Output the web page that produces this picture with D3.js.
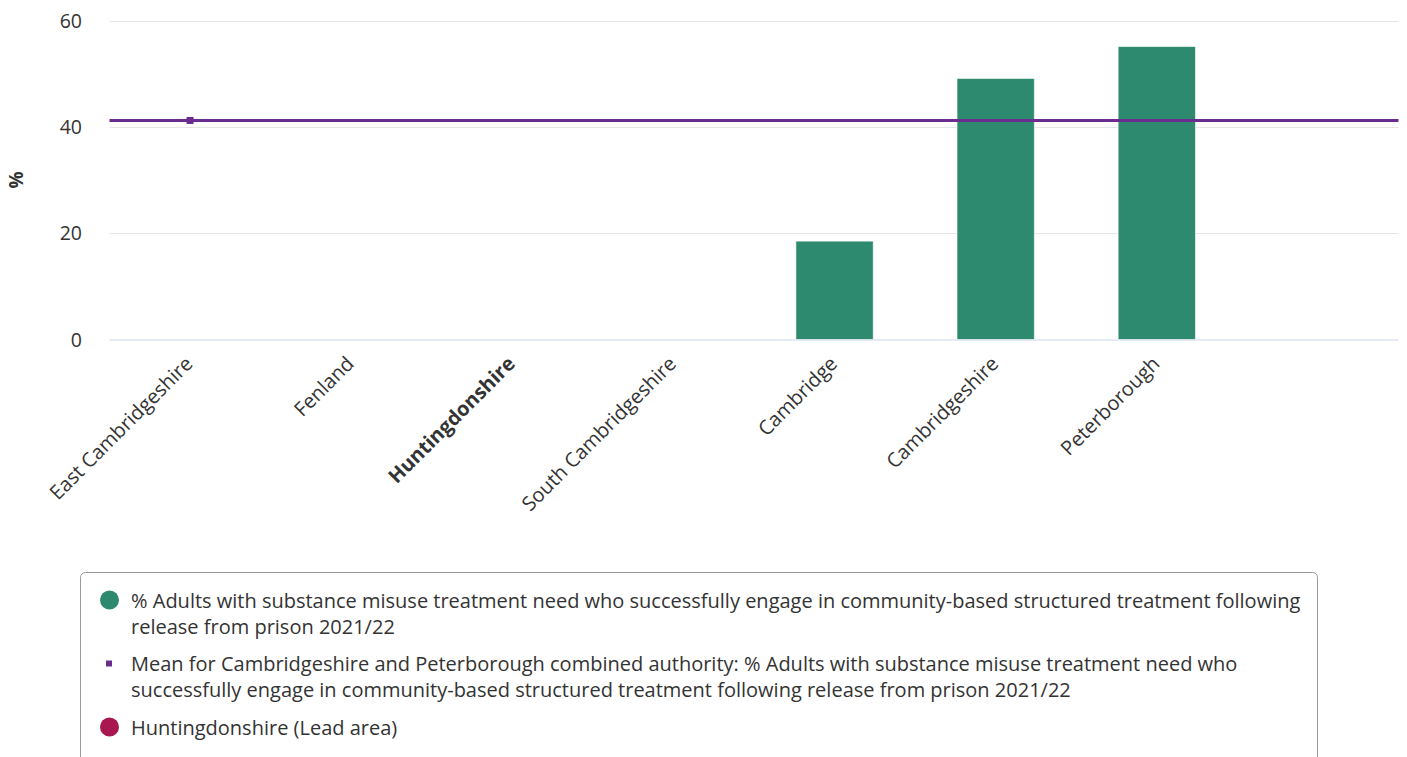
<!DOCTYPE html>
<html>
<head>
<meta charset="utf-8">
<script src="https://cdn.jsdelivr.net/npm/d3@7"></script>
<style>
  html, body { margin: 0; padding: 0; background: #fff; }
  svg { display: block; font-family: "Open Sans", "Noto Sans", sans-serif; }
</style>
</head>
<body>
<svg id="chart" width="1407" height="757"></svg>
<script>
// Areas shown along the x axis (a trailing empty slot follows the last one)
const categories = ["East Cambridgeshire", "Fenland", "Huntingdonshire", "South Cambridgeshire", "Cambridge", "Cambridgeshire", "Peterborough"];
const leadArea = "Huntingdonshire";
// % adults successfully engaging in community-based treatment after prison release, 2021/22
const values = [null, null, null, null, 18.5, 49.1, 55.1];
// Combined authority mean
const meanValue = 41.2;
const yTicks = [0, 20, 40, 60];
const legendItems = [
  { kind: "circle", color: "#2e8a6e", lines: ["% Adults with substance misuse treatment need who successfully engage in community-based structured treatment following", "release from prison 2021/22"] },
  { kind: "square", color: "#6a2c8e", lines: ["Mean for Cambridgeshire and Peterborough combined authority: % Adults with substance misuse treatment need who", "successfully engage in community-based structured treatment following release from prison 2021/22"] },
  { kind: "circle", color: "#a8174f", lines: ["Huntingdonshire (Lead area)"] }
];

const svg = d3.select("#chart");
const plot = { left: 109.5, right: 1398.5, top: 20.5, bottom: 339.5 };

const x = d3.scaleBand()
  .domain(categories.concat([""]))
  .range([plot.left, plot.right])
  .paddingInner(0.52)
  .paddingOuter(0.26);
const xCenter = d => x(d) + x.bandwidth() / 2;

const y = d3.scaleLinear().domain([0, 60]).range([plot.bottom, plot.top]);

// Horizontal gridlines
svg.append("g")
  .selectAll("line")
  .data(yTicks.filter(t => t > 0))
  .join("line")
  .attr("x1", plot.left).attr("x2", plot.right)
  .attr("y1", d => Math.round(y(d)) + 0.5).attr("y2", d => Math.round(y(d)) + 0.5)
  .attr("stroke", "#e6e6e6").attr("stroke-width", 1);

// Y axis tick labels
svg.append("g")
  .selectAll("text")
  .data(yTicks)
  .join("text")
  .attr("x", 82)
  .attr("y", d => y(d) + 7)
  .attr("text-anchor", "end")
  .attr("font-size", 19.5)
  .attr("fill", "#333")
  .text(d => d);

// Y axis title
svg.append("text")
  .attr("transform", "translate(23,180) rotate(-90)")
  .attr("text-anchor", "middle")
  .attr("font-size", 19)
  .attr("font-weight", "bold")
  .attr("fill", "#333")
  .text("%");

// Bars
svg.append("g")
  .selectAll("rect")
  .data(categories.map((c, i) => ({ c, v: values[i] })).filter(d => d.v != null))
  .join("rect")
  .attr("x", d => x(d.c))
  .attr("width", x.bandwidth())
  .attr("y", d => y(d.v))
  .attr("height", d => y(0) - y(d.v))
  .attr("fill", "#2e8a6e")
  .attr("stroke", "#ffffff")
  .attr("stroke-opacity", 0.6)
  .attr("stroke-width", 1);

// Zero axis line
svg.append("line")
  .attr("x1", plot.left).attr("x2", plot.right)
  .attr("y1", y(0) + 0.5).attr("y2", y(0) + 0.5)
  .attr("stroke", "#ccd6eb").attr("stroke-width", 1);

// Mean line across the plot with its marker on the first category
svg.append("line")
  .attr("x1", plot.left).attr("x2", plot.right)
  .attr("y1", y(meanValue)).attr("y2", y(meanValue))
  .attr("stroke", "#6a2c8e").attr("stroke-width", 3);
svg.append("rect")
  .attr("x", xCenter(categories[0]) - 3.5)
  .attr("y", y(meanValue) - 3.5)
  .attr("width", 7).attr("height", 7)
  .attr("fill", "#6a2c8e");

// Rotated category labels
svg.append("g")
  .selectAll("text")
  .data(categories)
  .join("text")
  .attr("transform", d => `translate(${xCenter(d) + 4},${365}) rotate(-45)`)
  .attr("text-anchor", "end")
  .attr("font-size", 20)
  .attr("font-weight", d => d === leadArea ? "bold" : "normal")
  .attr("fill", "#333")
  .text(d => d);

// Legend
const legend = svg.append("g");
legend.append("rect")
  .attr("x", 80.5).attr("y", 572.5)
  .attr("width", 1237).attr("height", 200)
  .attr("rx", 5)
  .attr("fill", "none")
  .attr("stroke", "#999").attr("stroke-width", 1);

const itemTops = [608, 671, 735];
legendItems.forEach((item, i) => {
  const g = legend.append("g");
  const by = itemTops[i];
  if (item.kind === "circle") {
    g.append("circle").attr("cx", 109.5).attr("cy", by - 8).attr("r", 9.5).attr("fill", item.color);
  } else {
    g.append("rect").attr("x", 106).attr("y", by - 10.5).attr("width", 6).attr("height", 6).attr("fill", item.color);
  }
  item.lines.forEach((ln, j) => {
    g.append("text")
      .attr("x", 131)
      .attr("y", by + j * 26)
      .attr("font-size", 20)
      .attr("fill", "#333")
      .text(ln);
  });
});
</script>
</body>
</html>
